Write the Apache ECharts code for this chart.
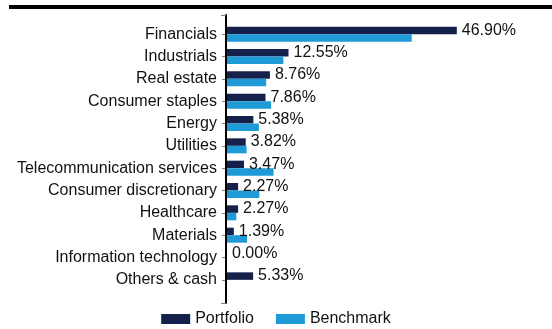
<!DOCTYPE html>
<html>
<head>
<meta charset="utf-8">
<script src="https://cdn.jsdelivr.net/npm/echarts@6/dist/echarts.min.js"></script>
<style>
  html, body { margin: 0; padding: 0; background: #fff; }
  #chart { width: 552px; height: 329px; }
</style>
</head>
<body>
<div id="chart"></div>
<script>
// Sector weights (%)
const sectors = [
  'Financials', 'Industrials', 'Real estate', 'Consumer staples', 'Energy',
  'Utilities', 'Telecommunication services', 'Consumer discretionary',
  'Healthcare', 'Materials', 'Information technology', 'Others & cash'
];
const portfolio = [46.90, 12.55, 8.76, 7.86, 5.38, 3.82, 3.47, 2.27, 2.27, 1.39, 0.00, 5.33];
const benchmark = [37.7, 11.5, 8.0, 9.0, 6.5, 4.0, 9.5, 6.6, 1.9, 4.1, 0, 0];
const seriesNames = ['Portfolio', 'Benchmark'];

const NAVY = '#15204b';
const BLUE = '#1e9bd7';
const FONT = 'Liberation Sans, Arial, sans-serif';

const chart = echarts.init(document.getElementById('chart'), null, { renderer: 'canvas' });

chart.setOption({
  animation: false,
  textStyle: { fontFamily: FONT },
  legend: {
    data: seriesNames,
    left: 'center',
    top: 306,
    itemWidth: 29,
    itemHeight: 10,
    itemGap: 22,
    icon: 'rect',
    textStyle: { fontSize: 16, color: '#111', fontFamily: FONT }
  },
  graphic: [
    { type: 'rect', shape: { x: 9, y: 5, width: 543, height: 4 }, style: { fill: '#000' } }
  ],
  grid: [
    { left: 227, right: 31, top: 23, height: 268 },
    { left: 226, right: 31, top: 15, bottom: 26 }
  ],
  xAxis: [
    { type: 'value', gridIndex: 0, min: 0, max: 60, show: false },
    { type: 'value', gridIndex: 1, min: 0, max: 1, show: false }
  ],
  yAxis: [
    {
      type: 'category',
      gridIndex: 0,
      data: sectors,
      inverse: true,
      axisLine: { show: false },
      axisTick: { show: true, alignWithLabel: true, length: 5, lineStyle: { color: '#808080', width: 1 } },
      axisLabel: { fontSize: 16, color: '#111', margin: 10, fontFamily: FONT },
      splitLine: { show: false }
    },
    {
      type: 'value',
      gridIndex: 1,
      min: 0,
      max: 1,
      interval: 1,
      z: 10,
      axisLine: { show: true, lineStyle: { color: '#000', width: 2 } },
      axisTick: { show: true, length: 5, lineStyle: { color: '#808080', width: 1 } },
      axisLabel: { show: false },
      splitLine: { show: false }
    }
  ],
  series: [
    {
      name: 'Portfolio',
      type: 'bar',
      xAxisIndex: 0,
      yAxisIndex: 0,
      data: portfolio,
      barWidth: 7.5,
      barGap: '0%',
      itemStyle: { color: NAVY },
      label: {
        show: true,
        position: 'right',
        distance: 5,
        fontSize: 16,
        color: '#111',
        fontFamily: FONT,
        formatter: p => p.value.toFixed(2) + '%'
      }
    },
    {
      name: 'Benchmark',
      type: 'bar',
      xAxisIndex: 0,
      yAxisIndex: 0,
      data: benchmark,
      barWidth: 7.5,
      barGap: '0%',
      itemStyle: { color: BLUE }
    }
  ]
});
</script>
</body>
</html>
